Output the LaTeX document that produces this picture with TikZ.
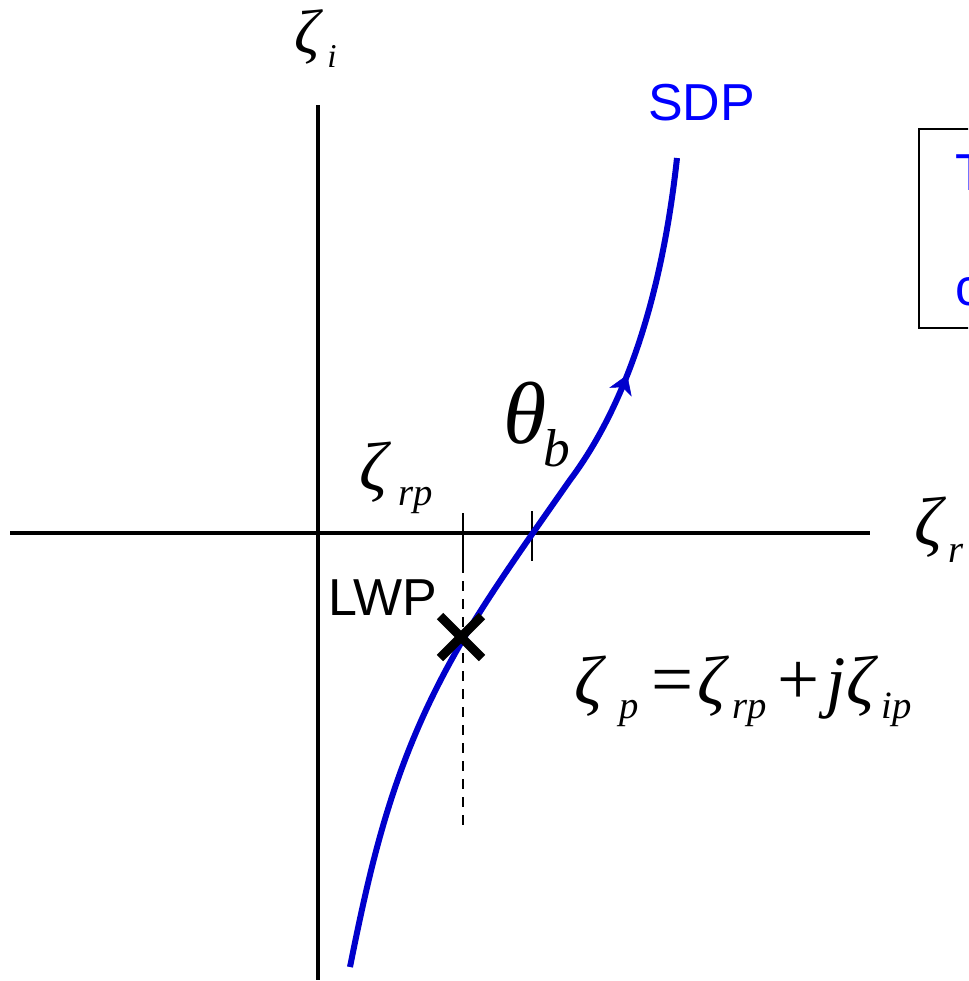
\documentclass[tikz,border=0pt]{standalone}
\usepackage{fontspec}
\setmainfont{Liberation Serif}
\newfontfamily\sansf{Liberation Sans}
\usetikzlibrary{arrows.meta,decorations.markings,calc}
\definecolor{curveblue}{RGB}{0,0,204}
\definecolor{textblue}{RGB}{0,0,255}
\newcommand\fsz[1]{\fontsize{#1}{#1}\selectfont}
\tikzset{
  axisline/.style={line width=2.6pt},
  tickline/.style={line width=1.5pt},
  sdpline/.style={curveblue, line width=4.5pt},
  lbl/.style={inner sep=0pt, anchor=base west},
  mainz/.style={lbl, font=\fsz{52pt}\itshape},
  subz/.style={lbl, font=\fsz{29pt}\itshape},
  sanslbl/.style={lbl, font=\fsz{39pt}\sansf},
}
\begin{document}
\begin{tikzpicture}[x=0.75pt,y=-0.75pt]
\path[use as bounding box] (0,0) rectangle (968,981);
\begin{scope}
\clip (0,0) rectangle (968,981);
% axes
\coordinate (vtop) at (318,105);
\coordinate (vbot) at (318,980);
\coordinate (hleft) at (10,533);
\coordinate (hright) at (870,533);
\draw[axisline] (vtop) -- (vbot);
\draw[axisline] (hleft) -- (hright);
% ticks
\coordinate (t1a) at (463,513);
\coordinate (t1b) at (463,563);
\coordinate (t2a) at (532,511);
\coordinate (t2b) at (532,561);
\coordinate (dend) at (463,832);
\draw[tickline] (t1a) -- (t1b);
\draw[tickline] (t2a) -- (t2b);
\draw[line width=2pt, dash pattern=on 7.5pt off 6pt] (t1b) -- (dend);
% curve (steepest descent path)
\coordinate (c0) at (350,967);
\coordinate (c1) at (461,643);
\coordinate (c2) at (570,480);
\coordinate (c3) at (677,158);
\draw[sdpline] (c0) .. controls (374,847) and (397,753) .. (c1)
  .. controls (490,593) and (535,530) .. (c2)
  .. controls (642,384) and (667,250) .. (c3);
\path[draw=none, decorate,
  decoration={markings, mark=at position 0.35 with {\arrow{Stealth[length=14pt,width=18pt,inset=4pt,color=curveblue,fill=curveblue]}}}]
  (c2) .. controls (642,384) and (667,250) .. (c3);
% LWP cross
\coordinate (xc) at (461,637);
\draw[line width=6.75pt] ($(xc)+(-21,-21)$) -- ($(xc)+(21,21)$);
\draw[line width=6.75pt] ($(xc)+(21,-21)$) -- ($(xc)+(-21,21)$);
% box at right
\draw[line width=2pt] (1000,129) -- (919,129) -- (919,328) -- (1000,328);
\node[sanslbl, text=textblue] (bt1) at (955,190) {T};
\node[sanslbl, text=textblue] (bt2) at (955,305) {c};
% labels
\node[sanslbl, text=textblue] (sdp) at (648,120) {SDP};
\node[sanslbl] (lwp) at (328,615) {LWP};
\node[mainz, font=\fsz{47pt}\itshape] (zi) at (294,54) {ζ};
\node[subz, font=\fsz{25pt}\itshape] (zis) at (327,68) {i};
\node[mainz] (zrp) at (359,490) {ζ};
\node[subz] (zrps) at (398,505) {rp};
\node[mainz] (zr) at (914,545) {ζ};
\node[subz] (zrs) at (948,562) {r};
\node[mainz, font=\fsz{66pt}\itshape] (th) at (503,443) {θ};
\node[subz, font=\fsz{40pt}\itshape] (ths) at (543,466) {b};
% equation
\node[mainz] (e1) at (574,704) {ζ};
\node[subz] (e2) at (619,718) {p};
\node[lbl, font=\fsz{56pt}] (e3) at (651,704) {=};
\node[mainz] (e4) at (697,704) {ζ};
\node[subz] (e5) at (732,718) {rp};
\node[lbl, font=\fsz{56pt}] (e6) at (777,704) {+};
\node[mainz] (e7) at (826,704) {j};
\node[mainz] (e8) at (846,704) {ζ};
\node[subz] (e9) at (881,718) {ip};
\end{scope}
\end{tikzpicture}
\end{document}
